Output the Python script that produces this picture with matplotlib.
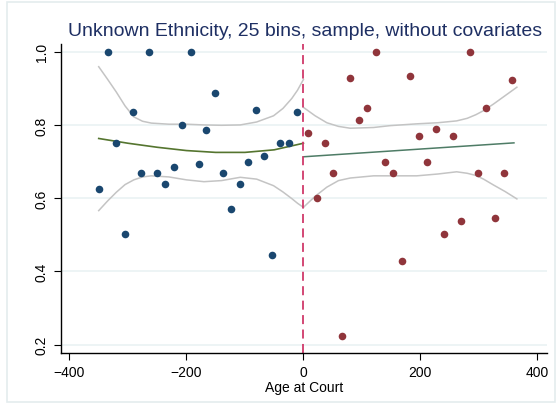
import numpy as np
import matplotlib
matplotlib.use("Agg")
import matplotlib.pyplot as plt
from matplotlib.patches import Rectangle

plt.rcParams['font.family'] = ['Liberation Sans', 'DejaVu Sans']

# binned means, left of cutoff
left_x = [-349, -334, -320, -305, -292, -278, -264, -250, -236, -222, -207, -193, -179,
          -166, -152, -138, -124, -109, -95, -81, -67, -53, -40, -25, -11]
left_y = [0.626, 1.0, 0.750, 0.501, 0.834, 0.668, 1.0, 0.668, 0.638, 0.685, 0.799, 1.0, 0.693,
          0.786, 0.888, 0.668, 0.571, 0.638, 0.700, 0.842, 0.715, 0.445, 0.750, 0.750, 0.834]

# binned means, right of cutoff
right_x = [7, 23, 37, 51, 66, 80, 95, 109, 124, 139, 154, 168, 182,
           197, 211, 226, 240, 255, 270, 284, 299, 313, 328, 343, 357]
right_y = [0.778, 0.601, 0.750, 0.668, 0.223, 0.928, 0.813, 0.846, 1.0, 0.700, 0.668, 0.429, 0.934,
           0.770, 0.700, 0.790, 0.501, 0.770, 0.539, 1.0, 0.668, 0.846, 0.545, 0.668, 0.923]

# fitted curves
fitL_x = [-350, -300, -250, -200, -150, -100, -50, 0]
fitL_y = [0.763, 0.750, 0.739, 0.730, 0.725, 0.725, 0.732, 0.750]
fitR_x = [0, 360]
fitR_y = [0.713, 0.751]

# confidence bands
ciL_x = [-350, -335, -320, -305, -290, -275, -260, -230, -200, -170, -140, -108,
         -80, -51, -35, -20, -10, 0]
ciL_hi = [0.959, 0.925, 0.890, 0.852, 0.822, 0.810, 0.805, 0.802, 0.802, 0.800, 0.799, 0.800,
          0.808, 0.825, 0.845, 0.872, 0.895, 0.924]
ciL_lo = [0.566, 0.592, 0.616, 0.637, 0.650, 0.658, 0.661, 0.658, 0.650, 0.645, 0.648, 0.657,
          0.652, 0.634, 0.617, 0.599, 0.586, 0.575]
ciR_x = [0, 20, 40, 60, 80, 120, 148, 194, 230, 262, 280, 295, 308, 325, 345, 365]
ciR_hi = [0.848, 0.825, 0.806, 0.796, 0.791, 0.793, 0.798, 0.803, 0.806, 0.811, 0.818, 0.828,
          0.839, 0.857, 0.880, 0.903]
ciR_lo = [0.575, 0.605, 0.630, 0.648, 0.655, 0.661, 0.661, 0.661, 0.666, 0.672, 0.668, 0.662,
          0.652, 0.636, 0.618, 0.598]

fig = plt.figure(figsize=(5.56, 4.06), dpi=100)
fig.patches.append(Rectangle((6.5/556, 3/406), 548/556, 400/406, transform=fig.transFigure,
                             fill=False, edgecolor='#e4ecee', lw=1.2))
ax = fig.add_axes([60.7/556, 1 - 353.7/406, 486/556, (353.7 - 45)/406])

for y in [0.2, 0.4, 0.6, 0.8, 1.0]:
    ax.axhline(y, color='#eaf2f3', lw=1.2, zorder=0)

grey = '#c4c4c4'
ax.plot(ciL_x, ciL_hi, color=grey, lw=1.1)
ax.plot(ciL_x, ciL_lo, color=grey, lw=1.1)
ax.plot(ciR_x, ciR_hi, color=grey, lw=1.1)
ax.plot(ciR_x, ciR_lo, color=grey, lw=1.1)

ax.plot(fitL_x, fitL_y, color='#55752f', lw=1.2)
ax.plot(fitR_x, fitR_y, color='#4e7c66', lw=1.1)

ax.scatter(left_x, left_y, s=30, color='#1a476f', zorder=3, linewidths=0)
ax.scatter(right_x, right_y, s=30, color='#90353b', zorder=3, linewidths=0)

ax.axvline(0, color='#d0396a', lw=1.3, dashes=(5, 3), zorder=2)

ax.set_xlim(-415, 416)
ax.set_ylim(0.178, 1.021)
ax.set_xticks([-400, -200, 0, 200, 400])
ax.set_yticks([0.2, 0.4, 0.6, 0.8, 1.0])
ax.set_yticklabels(['0.2', '0.4', '0.6', '0.8', '1.0'], rotation=90, va='center')
ax.tick_params(labelsize=10, length=5, width=0.8, colors='black')
for s in ['top', 'right']:
    ax.spines[s].set_visible(False)
for s in ['left', 'bottom']:
    ax.spines[s].set_linewidth(1.0)
ax.set_xlabel('Age at Court', fontsize=10, labelpad=1)

fig.text(305/556, 1 - 31/406, 'Unknown Ethnicity, 25 bins, sample, without covariates',
         ha='center', va='center', fontsize=14, color='#1e2f63')

fig.savefig('out.png', dpi=100)
